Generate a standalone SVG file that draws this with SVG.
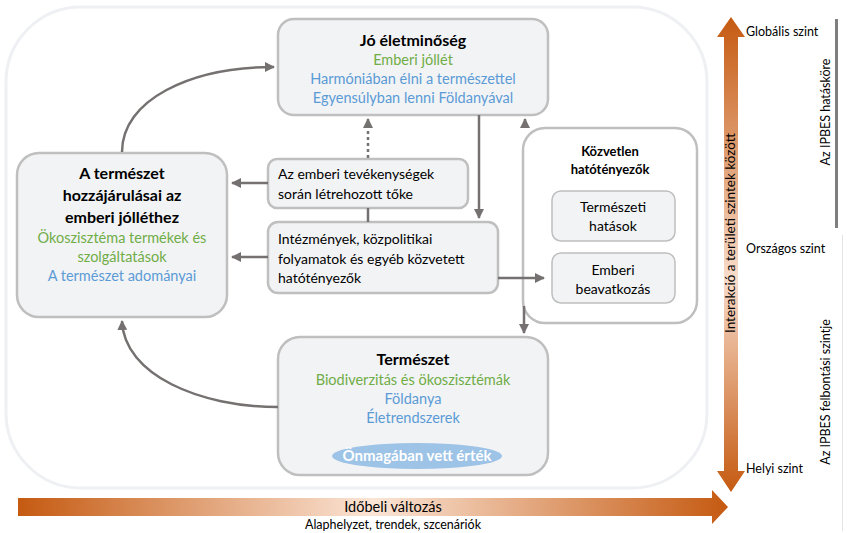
<svg xmlns="http://www.w3.org/2000/svg" width="847" height="533" viewBox="0 0 847 533">
<defs>
<marker id="ah" viewBox="0 0 10 10" refX="9" refY="5" markerWidth="4" markerHeight="4" orient="auto-start-reverse" markerUnits="strokeWidth">
<path d="M0,0 L10,5 L0,10 z" fill="#767171"/>
</marker>
<linearGradient id="gv" x1="0" y1="0" x2="0" y2="1">
<stop offset="0" stop-color="#c55a11"/>
<stop offset="0.55" stop-color="#f8dccb"/>
<stop offset="1" stop-color="#c55a11"/>
</linearGradient>
<linearGradient id="gh" x1="0" y1="0" x2="1" y2="0">
<stop offset="0" stop-color="#c55a11"/>
<stop offset="0.5" stop-color="#fbe5d6"/>
<stop offset="1" stop-color="#c55a11"/>
</linearGradient>
<style>
.box{fill:#f2f3f5;stroke:#bfbfbf;stroke-width:2.5}
.t{font-family:Lato,"Open Sans","Liberation Sans",sans-serif;font-size:14px;fill:#000}
.b{font-weight:bold}
.c{text-anchor:middle}
.g{fill:#70ad47;font-size:14.5px}
.bl{fill:#5b9bd5;font-size:14.5px}
.s{font-size:12.5px}
.h{font-size:16px}
.con{fill:none;stroke:#767171;stroke-width:2.5}
.dot{stroke-dasharray:3 3}
</style>
</defs>

<rect x="6" y="7" width="701" height="481" rx="75" fill="#ffffff" stroke="#eef0f3" stroke-width="3"/>

<g id="jo-eletminoseg">
<rect class="box" x="278" y="19" width="270" height="96" rx="16"/>
<text class="t b c h" x="413" y="46">Jó életminőség</text>
<text class="t c g" x="413" y="65">Emberi jóllét</text>
<text class="t c bl" x="413" y="84">Harmóniában élni a természettel</text>
<text class="t c bl" x="413" y="103">Egyensúlyban lenni Földanyával</text>
</g>

<g id="hozzajarulasok">
<rect class="box" x="17" y="153" width="210" height="164" rx="22"/>
<text class="t b c h" x="122" y="179">A természet</text>
<text class="t b c h" x="122" y="201">hozzájárulásai az</text>
<text class="t b c h" x="122" y="223">emberi jólléthez</text>
<text class="t c g" x="122" y="243">Ökoszisztéma termékek és</text>
<text class="t c g" x="122" y="262">szolgáltatások</text>
<text class="t c bl" x="122" y="281">A természet  adományai</text>
</g>

<g id="toke">
<rect class="box" x="268" y="159" width="200" height="49" rx="9"/>
<text class="t" x="278" y="179">Az emberi tevékenységek</text>
<text class="t" x="278" y="199">során létrehozott tőke</text>
</g>

<g id="intezmenyek">
<rect class="box" x="268" y="222" width="230" height="71" rx="10"/>
<text class="t" x="278" y="244">Intézmények, közpolitikai</text>
<text class="t" x="278" y="264">folyamatok és egyéb közvetett</text>
<text class="t" x="278" y="283">hatótényezők</text>
</g>

<g id="kozvetlen">
<rect x="523" y="128" width="174" height="195" rx="22" fill="#ffffff" stroke="#bfbfbf" stroke-width="2.5"/>
<text class="t b c" x="610" y="156" style="font-size:13px">Közvetlen</text>
<text class="t b c" x="610" y="174" style="font-size:13px">hatótényezők</text>
</g>

<g id="termeszeti-hatasok">
<rect x="552" y="191" width="123" height="50" rx="9" fill="#f2f3f5" stroke="#bfbfbf" stroke-width="1.5"/>
<text class="t c" x="613" y="212">Természeti</text>
<text class="t c" x="613" y="231">hatások</text>
</g>

<g id="emberi-beavatkozas">
<rect x="552" y="253" width="123" height="50" rx="9" fill="#f2f3f5" stroke="#bfbfbf" stroke-width="1.5"/>
<text class="t c" x="613" y="275">Emberi</text>
<text class="t c" x="613" y="294">beavatkozás</text>
</g>

<g id="termeszet">
<rect class="box" x="278" y="337" width="270" height="138" rx="22"/>
<text class="t b c h" x="413" y="365">Természet</text>
<text class="t c g" x="413" y="385">Biodiverzitás és ökoszisztémák</text>
<text class="t c bl" x="413" y="404">Földanya</text>
<text class="t c bl" x="413" y="423">Életrendszerek</text>
<ellipse cx="417" cy="456" rx="85" ry="13" fill="#9dc3e6"/>
<text class="t b c" x="417" y="461" style="fill:#fff;font-size:15px">Önmagában vett érték</text>
</g>

<g id="connectors">
<path class="con" d="M122,152 C122,100 190,67 274,67" marker-end="url(#ah)"/>
<path class="con" d="M278,407 C200,407 124,375 122,321" marker-end="url(#ah)"/>
<path class="con" d="M268,183 L232,183" marker-end="url(#ah)"/>
<path class="con" d="M268,257 L232,257" marker-end="url(#ah)"/>
<path class="con" d="M368,208 L368,222"/>
<path class="con" d="M479,115 L479,218" marker-end="url(#ah)"/>
<path class="con dot" d="M368,158 L368,119" marker-end="url(#ah)"/>
<path class="con dot" d="M525,128 L525,119" marker-end="url(#ah)"/>
<path class="con" d="M498,278 L544,278" marker-end="url(#ah)"/>
<path class="con" d="M524,306 L524,333" marker-end="url(#ah)"/>
</g>

<g id="terbeli-skala">
<path d="M731,17 L745,37 L738,37 L738,471 L745,471 L731,492 L717,471 L724,471 L724,37 L717,37 z" fill="url(#gv)"/>
<text class="t c" transform="translate(735,233) rotate(-90)" style="font-size:13.5px">Interakció a területi szintek között</text>
<text class="t s" x="746" y="36">Globális szint</text>
<text class="t s" x="746" y="253">Országos szint</text>
<text class="t s" x="746" y="473">Helyi szint</text>
<rect x="835" y="19" width="3" height="209" fill="#7f7f7f"/>
<text class="t s c" transform="translate(830,112) rotate(-90)">Az IPBES hatásköre</text>
<rect x="842" y="235" width="1" height="296" fill="#e3e3e3"/>
<text class="t s c" transform="translate(830,392) rotate(-90)">Az IPBES felbontási szintje</text>
</g>

<g id="idobeli-valtozas">
<path d="M18,498 L712,498 L712,490 L728,507 L712,524 L712,516 L18,516 z" fill="url(#gh)"/>
<text class="t c" x="393" y="512" style="font-size:14.5px">Időbeli változás</text>
<text class="t c s" x="393" y="529">Alaphelyzet, trendek, szcenáriók</text>
</g>
</svg>
